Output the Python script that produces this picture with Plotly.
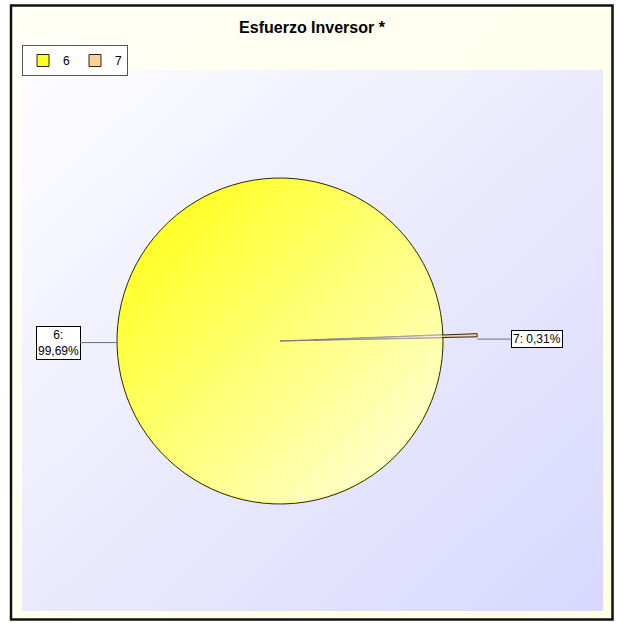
import base64, math
import plotly.graph_objects as go

# ---- data ----
labels = ["6", "7"]
values = [99.69, 0.31]
colors = ["#FFFF1E", "#FFD090"]
title_text = "Esfuerzo Inversor *"

W, H = 617, 623
pull7 = 0.21

def b64svg(s):
    return "data:image/svg+xml;base64," + base64.b64encode(s.encode()).decode()

# background decoration (frame + gradient plot area)
bg_svg = f"""<svg xmlns='http://www.w3.org/2000/svg' width='{W}' height='{H}' viewBox='0 0 {W} {H}' preserveAspectRatio='none'>
<defs>
<linearGradient id='c' x1='0' y1='0' x2='1' y2='1'><stop offset='0' stop-color='#FFFFF6'/><stop offset='1' stop-color='#FFFFE4'/></linearGradient>
<linearGradient id='g' x1='0' y1='0' x2='1' y2='1'><stop offset='0' stop-color='#FDFDFF'/><stop offset='0.5' stop-color='#EAEAFD'/><stop offset='1' stop-color='#D8D8FF'/></linearGradient>
</defs>
<rect width='{W}' height='{H}' fill='white'/>
<rect x='11' y='5.5' width='601.5' height='614' fill='url(#c)' stroke='#111' stroke-width='2.5'/>
<rect x='22' y='70' width='581' height='541' fill='url(#g)'/>
</svg>"""

total = sum(values)
fracs = [v / total for v in values]

# pie geometry (pixels)
cx, cy, r = 280, 341, 163
half = r * (1 + pull7)
dom_x = [(cx - half) / W, (cx + half) / W]
dom_y = [1 - (cy + half) / H, 1 - (cy - half) / H]

# shading overlay for the gradient look of the pie
shade_svg = f"""<svg xmlns='http://www.w3.org/2000/svg' width='{2*r}' height='{2*r}' viewBox='0 0 {2*r} {2*r}' preserveAspectRatio='none'>
<defs><linearGradient id='s' x1='0.1' y1='0.1' x2='0.9' y2='0.9'>
<stop offset='0' stop-color='white' stop-opacity='0'/><stop offset='1' stop-color='white' stop-opacity='0.8'/></linearGradient></defs>
<circle cx='{r}' cy='{r}' r='{r-0.8}' fill='url(#s)'/>
</svg>"""

rotation = 90 - 360 * fracs[1]

fig = go.Figure(go.Pie(
    labels=labels, values=values, sort=False, direction="counterclockwise",
    rotation=rotation, pull=[0, pull7],
    marker=dict(colors=colors, line=dict(color="#101010", width=0.9)),
    textinfo="none", domain=dict(x=dom_x, y=dom_y),
))

start = 90 - rotation  # math angle where first slice starts
def pct(v):
    return f"{v*100:.2f}".replace(".", ",")

acc = 0.0
annos = []
offsets = [(-59, 0), (60, 0)]
pulls = [0, pull7]
for i, (lab, f) in enumerate(zip(labels, fracs)):
    mid = math.radians(start + 360 * (acc + f / 2))
    acc += f
    rr = r * (1 + pulls[i])
    px = cx + rr * math.cos(mid)
    py = cy - rr * math.sin(mid)
    text = f"{lab}:<br>{pct(f)}%" if i == 0 else f"{lab}: {pct(f)}%"
    annos.append(dict(
        x=px / W, y=1 - py / H, xref="paper", yref="paper",
        ax=offsets[i][0], ay=offsets[i][1], showarrow=True, arrowhead=0,
        arrowwidth=1, arrowcolor="#707070", text=text, align="center",
        font=dict(family="Liberation Sans, Arial", size=12, color="#000"),
        bgcolor="white", bordercolor="#000", borderwidth=1, borderpad=1,
    ))

fig.update_layout(
    width=W, height=H, margin=dict(l=0, r=0, t=0, b=0),
    paper_bgcolor="white", plot_bgcolor="white",
    title=dict(text=f"<b>{title_text}</b>", x=312 / W, y=1 - 27 / H,
               xanchor="center", yanchor="middle",
               font=dict(family="Liberation Sans, Arial", size=16, color="#000")),
    legend=dict(orientation="h", x=22 / W, y=1 - 45 / H,
                xanchor="left", yanchor="top",
                bgcolor="white", bordercolor="#555", borderwidth=1,
                font=dict(family="Liberation Sans, Arial", size=12, color="#000"),
                itemwidth=30, tracegroupgap=0),
    images=[
        dict(source=b64svg(bg_svg), xref="paper", yref="paper", x=0, y=1, sizex=1, sizey=1,
             xanchor="left", yanchor="top", sizing="stretch", layer="below"),
        dict(source=b64svg(shade_svg), xref="paper", yref="paper",
             x=(cx - r) / W, y=1 - (cy - r) / H, sizex=2 * r / W, sizey=2 * r / H,
             xanchor="left", yanchor="top", sizing="stretch", layer="above"),
    ],
    annotations=annos,
)

fig.write_html(
    "out.html",
    config={"displayModeBar": False},
    post_script="document.body.style.margin='0';document.body.style.overflow='hidden';",
)
